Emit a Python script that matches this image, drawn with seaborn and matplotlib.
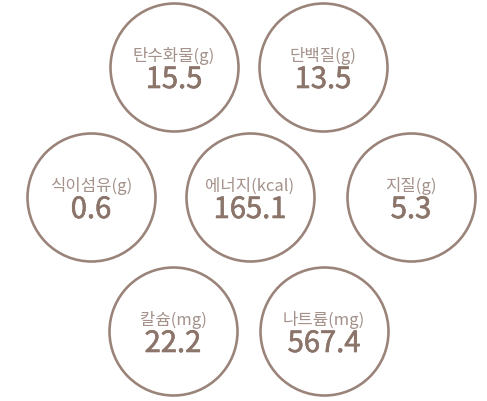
import matplotlib
matplotlib.use("Agg")
import matplotlib.pyplot as plt
import matplotlib.patheffects as pe
import seaborn as sns
import pandas as pd

# Data
nutrients = ["탄수화물", "단백질", "식이섬유", "에너지", "지질", "칼슘", "나트륨"]
units = ["g", "g", "g", "kcal", "g", "mg", "mg"]
values = [15.5, 13.5, 0.6, 165.1, 5.3, 22.2, 567.4]

# Layout (bubble grid: row and horizontal slot)
rows = [0, 0, 1, 1, 1, 2, 2]
row_y = [67, 197, 331]
row_x = [[174, 323], [91, 250, 411], [173, 324]]

xs, ys = [], []
count = {}
for r in rows:
    i = count.get(r, 0)
    xs.append(row_x[r][i])
    ys.append(row_y[r])
    count[r] = i + 1

df = pd.DataFrame({"x": xs, "y": ys, "name": nutrients, "unit": units, "value": values})

sns.set_theme(style="white")
plt.rcParams["font.family"] = ["Noto Sans CJK KR", "DejaVu Sans"]

W, H, DPI = 487, 401, 100
fig = plt.figure(figsize=(W / DPI, H / DPI), dpi=DPI)
ax = fig.add_axes([0, 0, 1, 1])
ax.set_xlim(0, W)
ax.set_ylim(H, 0)
ax.set_axis_off()

stroke = "#9a8379"
value_color = "#8b7469"
diam_pt = 128 * 72 / DPI
sns.scatterplot(data=df, x="x", y="y", ax=ax, s=diam_pt ** 2, marker="o",
                facecolor="white", edgecolor=stroke, linewidth=2.6 * 72 / DPI,
                legend=False, zorder=2)

for _, row in df.iterrows():
    ax.text(row["x"], row["y"] - 11, f"{row['name']}({row['unit']})",
            ha="center", va="center", fontsize=12, color="#a3918a",
            fontweight="light", zorder=3)
    ax.text(row["x"], row["y"] + 13, f"{row['value']:.1f}",
            ha="center", va="center", fontsize=21, color=value_color,
            fontweight="normal", zorder=3,
            path_effects=[pe.withStroke(linewidth=0.45, foreground=value_color)])

fig.savefig("out.png", dpi=DPI, facecolor="white")
